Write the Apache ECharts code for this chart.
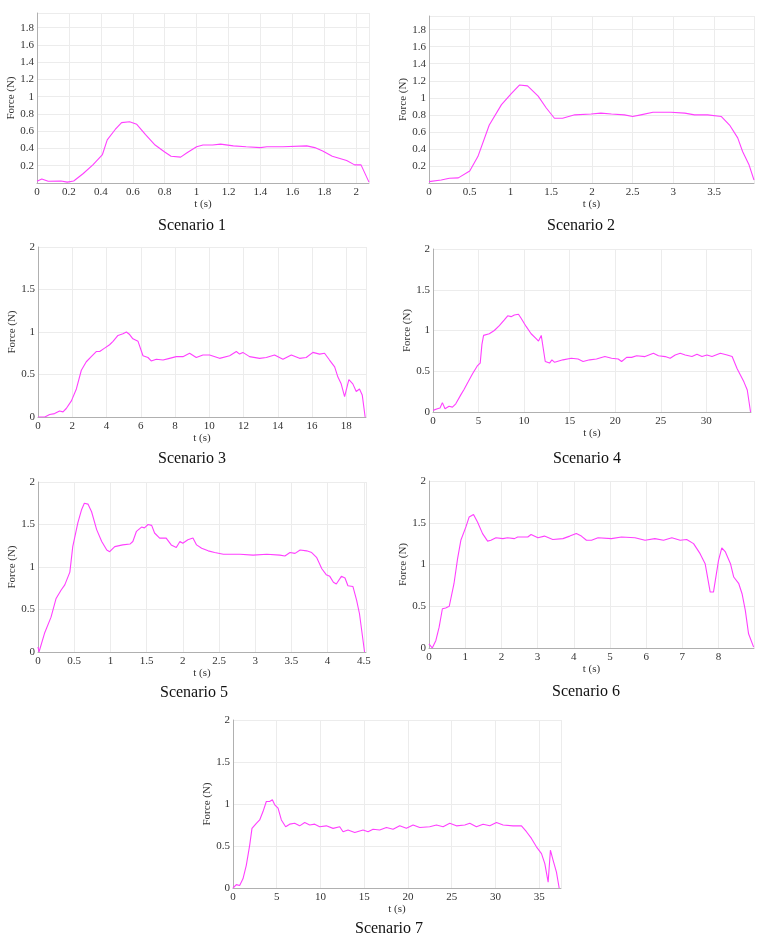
<!DOCTYPE html>
<html><head><meta charset="utf-8">
<script src="https://cdn.jsdelivr.net/npm/echarts@6/dist/echarts.min.js"></script>
<style>html,body{margin:0;padding:0;background:#fff}#c{width:762px;height:939px}</style>
</head><body><div id="c"></div>
<script>
// Scenario 1
const t1 = [0,0.03,0.07,0.15,0.19,0.23,0.29,0.35,0.41,0.44,0.49,0.53,0.58,0.625,0.68,0.74,0.80,0.84,0.90,0.94,1.0,1.04,1.1,1.15,1.23,1.31,1.4,1.44,1.54,1.69,1.74,1.79,1.85,1.94,1.99,2.03,2.08];
const f1 = [0.02,0.046,0.02,0.023,0.01,0.023,0.11,0.21,0.33,0.5,0.62,0.70,0.71,0.68,0.56,0.44,0.36,0.31,0.30,0.35,0.42,0.44,0.44,0.45,0.43,0.42,0.41,0.42,0.42,0.43,0.41,0.37,0.31,0.26,0.21,0.21,0.01];
// Scenario 2
const t2 = [0,0.15,0.25,0.36,0.5,0.6,0.74,0.89,1.01,1.11,1.21,1.34,1.44,1.54,1.64,1.79,1.99,2.11,2.24,2.4,2.5,2.6,2.75,2.97,3.14,3.26,3.42,3.59,3.69,3.79,3.85,3.93,3.99];
const f2 = [0.016,0.035,0.055,0.06,0.14,0.31,0.68,0.92,1.05,1.15,1.14,1.02,0.88,0.76,0.76,0.8,0.81,0.82,0.81,0.8,0.78,0.8,0.83,0.83,0.82,0.8,0.8,0.78,0.68,0.53,0.37,0.21,0.035];
// Scenario 3
const t3 = [0,0.4,0.68,0.97,1.26,1.46,1.65,1.95,2.24,2.53,2.82,3.11,3.4,3.6,3.89,4.18,4.38,4.67,4.96,5.16,5.35,5.54,5.84,6.13,6.42,6.61,6.91,7.3,7.68,8.07,8.46,8.85,9.24,9.63,10.02,10.6,11.19,11.58,11.77,11.96,12.35,12.94,13.33,13.81,14.3,14.79,15.27,15.66,16.05,16.44,16.73,17.02,17.32,17.51,17.7,17.9,18.15,18.38,18.58,18.77,18.93,19.1];
const f3 = [0,0,0.03,0.04,0.07,0.06,0.1,0.19,0.33,0.55,0.65,0.71,0.77,0.77,0.81,0.85,0.89,0.96,0.98,1.0,0.97,0.92,0.89,0.72,0.7,0.66,0.68,0.67,0.69,0.71,0.71,0.75,0.7,0.73,0.73,0.69,0.72,0.77,0.74,0.76,0.71,0.69,0.7,0.73,0.68,0.73,0.69,0.7,0.76,0.74,0.75,0.67,0.59,0.47,0.39,0.24,0.44,0.39,0.3,0.33,0.26,0];
// Scenario 4
const t4 = [0,0.48,0.77,1.03,1.32,1.76,2.13,2.5,3.05,3.42,3.86,4.34,4.89,5.18,5.37,5.55,6.18,6.73,7.28,7.83,8.2,8.57,8.93,9.38,9.67,10.22,10.77,11.32,11.58,11.88,12.06,12.32,12.79,13.05,13.35,14.26,15.18,15.92,16.47,17.2,17.94,18.86,19.6,20.33,20.7,21.25,21.8,22.35,23.27,24.19,24.74,25.48,26.03,26.58,27.13,27.68,28.42,28.97,29.52,30.07,30.62,31.54,32.28,32.83,33.38,33.75,34.12,34.49,34.85];
const f4 = [0.02,0.04,0.05,0.115,0.04,0.07,0.06,0.1,0.21,0.28,0.37,0.47,0.57,0.6,0.83,0.94,0.96,1.0,1.06,1.13,1.18,1.17,1.19,1.2,1.15,1.05,0.96,0.9,0.87,0.94,0.92,0.62,0.6,0.64,0.61,0.64,0.66,0.65,0.62,0.64,0.65,0.68,0.66,0.65,0.62,0.67,0.67,0.69,0.68,0.72,0.69,0.68,0.66,0.7,0.72,0.7,0.68,0.71,0.68,0.7,0.68,0.72,0.7,0.68,0.53,0.45,0.37,0.27,0];
// Scenario 5
const t5 = [0,0.014,0.09,0.18,0.25,0.32,0.37,0.44,0.48,0.55,0.6,0.64,0.69,0.74,0.81,0.88,0.95,0.99,1.06,1.17,1.27,1.31,1.36,1.43,1.47,1.52,1.57,1.61,1.68,1.77,1.84,1.91,1.96,2.0,2.07,2.14,2.19,2.26,2.35,2.44,2.56,2.79,2.97,3.16,3.34,3.41,3.48,3.55,3.62,3.71,3.78,3.85,3.92,3.98,4.03,4.08,4.12,4.19,4.24,4.28,4.35,4.4,4.44,4.51];
const f5 = [0.06,0,0.22,0.41,0.63,0.73,0.79,0.94,1.24,1.52,1.67,1.75,1.74,1.65,1.44,1.3,1.2,1.18,1.24,1.26,1.27,1.3,1.42,1.47,1.46,1.5,1.49,1.4,1.34,1.34,1.26,1.23,1.3,1.28,1.32,1.34,1.26,1.22,1.19,1.17,1.15,1.15,1.14,1.15,1.14,1.13,1.17,1.16,1.2,1.19,1.17,1.11,0.98,0.91,0.89,0.82,0.8,0.89,0.87,0.78,0.77,0.61,0.45,0];
// Scenario 6
const t6 = [0,0.09,0.19,0.28,0.37,0.46,0.56,0.69,0.79,0.88,1.02,1.11,1.23,1.34,1.48,1.62,1.71,1.85,2.04,2.17,2.36,2.45,2.73,2.82,3.01,3.19,3.42,3.7,3.89,4.07,4.21,4.35,4.49,4.67,5.04,5.32,5.69,5.97,6.24,6.48,6.71,6.94,7.12,7.31,7.49,7.63,7.77,7.86,8.0,8.09,8.19,8.33,8.42,8.56,8.65,8.74,8.83,8.97];
const f6 = [0.05,0,0.09,0.25,0.47,0.48,0.5,0.77,1.07,1.29,1.45,1.57,1.6,1.51,1.37,1.28,1.29,1.32,1.31,1.32,1.31,1.33,1.33,1.36,1.32,1.34,1.3,1.31,1.34,1.37,1.34,1.29,1.29,1.32,1.31,1.33,1.32,1.29,1.31,1.29,1.32,1.29,1.3,1.25,1.13,1.01,0.67,0.67,1.05,1.2,1.15,1.01,0.85,0.77,0.65,0.45,0.17,0.01];
// Scenario 7
const t7 = [0,0.38,0.76,1.14,1.52,1.91,2.17,2.67,3.05,3.43,3.81,4.19,4.5,4.77,5.15,5.53,6.02,6.48,7.05,7.62,8.2,8.77,9.34,9.91,10.67,11.44,12.2,12.58,13.15,13.92,14.87,15.44,16.01,16.77,17.54,18.3,19.06,19.82,20.59,21.35,22.49,23.26,24.02,24.78,25.54,26.5,27.07,27.83,28.59,29.36,30.12,30.88,32.02,32.98,33.55,34.12,34.69,35.27,35.65,36.03,36.29,36.6,36.98,37.29];
const f7 = [0,0.04,0.03,0.11,0.27,0.51,0.71,0.77,0.81,0.91,1.03,1.03,1.05,0.99,0.95,0.81,0.73,0.76,0.77,0.74,0.78,0.75,0.76,0.73,0.74,0.71,0.73,0.67,0.69,0.66,0.69,0.67,0.7,0.69,0.72,0.7,0.74,0.71,0.75,0.72,0.73,0.75,0.73,0.77,0.74,0.75,0.77,0.73,0.76,0.74,0.78,0.75,0.74,0.74,0.67,0.59,0.49,0.41,0.29,0.07,0.45,0.33,0.19,0];

const titles = ['Scenario 1','Scenario 2','Scenario 3','Scenario 4','Scenario 5','Scenario 6','Scenario 7'];

const T = [t1,t2,t3,t4,t5,t6,t7];
const F = [f1,f2,f3,f4,f5,f6,f7];

// layout
const grids = [
  {left:37, top:13, width:332, height:170},
  {left:429, top:16, width:325, height:167},
  {left:38, top:247, width:328, height:170},
  {left:433, top:249, width:318, height:163},
  {left:38, top:482, width:328, height:170},
  {left:429, top:481, width:325, height:167},
  {left:233, top:720, width:328, height:168}
];
const xCfg = [
  {max:2.08, interval:0.2},
  {max:3.99, interval:0.5},
  {max:19.15, interval:2},
  {max:34.9, interval:5},
  {max:4.53, interval:0.5},
  {max:8.98, interval:1},
  {max:37.5, interval:5}
];
const yCfg = [
  {max:1.97, interval:0.2, hideMin:true},
  {max:1.96, interval:0.2, hideMin:true},
  {max:2, interval:0.5},
  {max:2, interval:0.5},
  {max:2, interval:0.5},
  {max:2, interval:0.5},
  {max:2, interval:0.5}
];
const titlePos = [[187,213],[576,213],[187,446],[582,446],[189,680],[581,679],[384,916]];

const font = '"Liberation Serif","Times New Roman",serif';
const gridColor = '#ececec';
const axisColor = '#b0b0b0';

function isMult(v, step){ const r = v/step; return Math.abs(r-Math.round(r))<1e-6; }

const option = {
  animation:false,
  backgroundColor:'#fff',
  title: titles.map((s,i)=>({text:s, left:titlePos[i][0], top:titlePos[i][1], textAlign:'center',
    textStyle:{fontFamily:font, fontSize:16, fontWeight:'normal', color:'#111'}})),
  grid: grids,
  xAxis: xCfg.map((c,i)=>({
    type:'value', gridIndex:i, min:0, max:c.max, interval:c.interval,
    name:'t (s)', nameLocation:'middle', nameGap:16,
    nameTextStyle:{fontFamily:font, fontSize:11, color:'#333'},
    axisLine:{show:true, onZero:false, lineStyle:{color:axisColor, width:1}},
    axisTick:{show:false},
    axisLabel:{fontFamily:font, fontSize:11, color:'#333', margin:4,
      formatter:(v)=> isMult(v,c.interval) ? String(+v.toFixed(2)) : ''},
    splitLine:{show:true, lineStyle:{color:gridColor, width:1}}
  })),
  yAxis: yCfg.map((c,i)=>({
    type:'value', gridIndex:i, min:0, max:c.max, interval:c.interval,
    name:'Force (N)', nameLocation:'middle', nameGap:18, nameRotate:90,
    nameTextStyle:{fontFamily:font, fontSize:11, color:'#333'},
    axisLine:{show:true, lineStyle:{color:axisColor, width:1}},
    axisTick:{show:false},
    axisLabel:{fontFamily:font, fontSize:11, color:'#333', margin:3,
      formatter:(v)=> (c.hideMin && v===0) ? '' : (isMult(v,c.interval) ? String(+v.toFixed(2)) : '')},
    splitLine:{show:true, lineStyle:{color:gridColor, width:1}}
  })),
  series: T.map((t,i)=>({
    type:'line', xAxisIndex:i, yAxisIndex:i, showSymbol:false, smooth:false,
    lineStyle:{color:'#ff40ff', width:1.1},
    data: t.map((x,k)=>[x, F[i][k]])
  }))
};
echarts.init(document.getElementById('c')).setOption(option);
</script></body></html>
